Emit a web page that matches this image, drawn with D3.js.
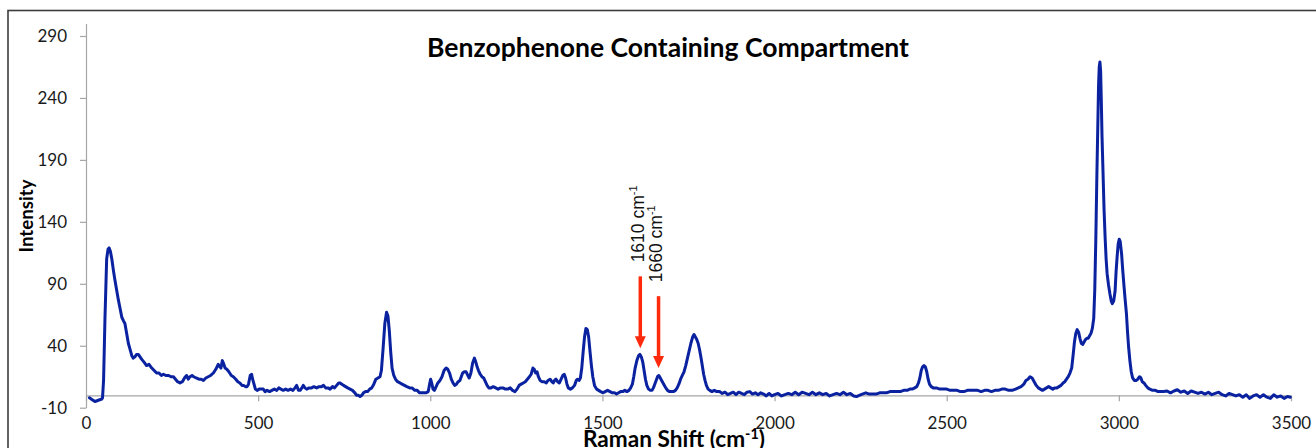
<!DOCTYPE html>
<html><head><meta charset="utf-8">
<script src="https://cdn.jsdelivr.net/npm/d3@7"></script>
<style>body{margin:0;background:#fff;} svg{display:block;}</style>
</head><body><svg id="c" width="1316" height="448"></svg>
<script>
const ramanShift = [10,18,26,36,46,48,51,55,60,64,67,71,75,80,84,89,94,99,104,109,113,118,123,128,133,137,142,147,152,157,162,168,176,183,191,198,205,212,219,225,232,240,247,254,260,266,273,280,286,292,297,302,308,313,320,328,335,341,348,355,362,370,377,384,389,392,396,399,404,409,415,422,428,435,441,447,453,458,463,468,472,477,481,484,488,492,497,503,509,515,520,526,533,540,547,554,560,566,573,580,587,594,601,607,612,617,622,627,631,636,641,648,655,662,670,677,684,690,696,703,709,716,722,728,734,738,743,748,754,760,767,774,781,786,791,796,801,806,812,818,824,830,836,842,848,854,858,863,868,873,877,881,885,889,894,899,905,912,918,925,932,940,947,955,962,969,975,982,988,994,998,1001,1004,1008,1012,1017,1022,1028,1034,1040,1046,1051,1056,1061,1066,1071,1076,1081,1086,1090,1094,1099,1104,1109,1113,1118,1123,1128,1132,1136,1140,1145,1150,1155,1160,1165,1170,1176,1183,1190,1197,1204,1211,1218,1225,1232,1239,1246,1252,1258,1264,1270,1276,1282,1288,1293,1298,1302,1306,1310,1314,1319,1325,1331,1337,1342,1348,1353,1357,1361,1365,1370,1375,1380,1385,1389,1393,1397,1401,1407,1413,1419,1424,1428,1432,1436,1440,1444,1448,1452,1456,1460,1464,1468,1472,1477,1483,1489,1495,1502,1508,1515,1522,1528,1535,1541,1547,1553,1559,1565,1571,1577,1582,1587,1591,1595,1600,1605,1609,1613,1617,1621,1625,1629,1634,1639,1644,1648,1652,1656,1660,1664,1668,1672,1676,1680,1684,1689,1695,1700,1706,1712,1717,1722,1727,1732,1737,1742,1747,1752,1757,1762,1766,1770,1774,1778,1782,1786,1790,1794,1798,1802,1807,1812,1818,1825,1832,1840,1848,1856,1864,1872,1880,1888,1896,1904,1912,1920,1928,1936,1944,1952,1960,1968,1976,1984,1992,2000,2010,2020,2030,2040,2050,2060,2070,2080,2090,2100,2110,2120,2130,2140,2150,2160,2170,2180,2190,2200,2210,2220,2230,2238,2246,2255,2265,2275,2285,2295,2305,2315,2325,2335,2345,2355,2365,2375,2385,2393,2400,2407,2413,2418,2422,2426,2430,2434,2438,2442,2446,2450,2455,2461,2470,2480,2490,2500,2510,2520,2530,2540,2550,2560,2570,2580,2590,2600,2610,2620,2630,2640,2650,2660,2670,2680,2690,2700,2708,2716,2724,2730,2736,2742,2748,2754,2760,2766,2772,2778,2784,2790,2796,2802,2808,2814,2820,2826,2832,2838,2843,2848,2853,2858,2863,2867,2871,2875,2879,2883,2887,2891,2895,2899,2903,2907,2911,2915,2919,2923,2927,2930,2933,2936,2939,2941,2943,2945,2947,2949,2951,2954,2957,2960,2963,2966,2970,2974,2978,2981,2985,2989,2992,2995,2998,3001,3004,3008,3011,3015,3018,3022,3025,3028,3032,3036,3040,3045,3050,3055,3060,3064,3068,3073,3078,3084,3090,3098,3106,3114,3122,3130,3140,3150,3160,3170,3180,3190,3200,3210,3220,3230,3240,3250,3260,3270,3280,3290,3300,3310,3320,3330,3340,3350,3360,3370,3380,3390,3400,3410,3420,3430,3440,3450,3460,3470,3480,3490,3498];
const intensity = [-2,-3.5,-5,-4,-3,-2,12,61,110,118,119,116,110,100,93,85,77,70,63,60,58,50,42,37,32,30,31,33,33,31,29,27,24,25,22,20,18,18,16,17,16,16,15,15,13,11,10,11,14,16,13,15,16,15,14,13,13,12,14,15,16,18,21,25,23,22,28,26,22,21,19,16,15,13,11,10,8,8,7,7,9,16,17,13,9,5,4,5,5,5,3,4,3,4,5,4,6,5,4,5,4,5,4,6,8,4,4,6,8,6,5,6,6,7,6,7,7,8,6,6,5,7,6,8,10,10,9,8,7,6,5,4,2,0,0,-1,0,2,3,3,5,6,9,13,14,15,20,38,58,67,64,52,35,22,16,13,11,10,9,8,7,6,6,4,4,2,2,2,2,3,9,13,10,5,4,7,10,12,15,20,22,21,18,13,10,8,9,11,12,15,18,19,19,16,14,18,26,30,27,23,20,17,15,14,11,8,6,6,7,6,5,6,6,5,5,6,4,3,5,8,9,10,11,13,15,17,22,21,18,19,15,12,11,11,10,12,13,11,10,12,13,11,10,13,16,17,14,9,6,5,6,8,12,13,12,14,22,35,47,54,53,47,35,24,15,8,5,4,3,2,3,4,3,2,2,1,2,3,3,4,3,4,6,9,15,22,28,32,33,31,27,20,13,8,5,4,4,6,9,12,15,16,14,12,10,8,6,4,3,3,3,4,6,9,13,16,19,24,30,36,42,47,49,47,45,42,37,31,24,17,12,8,5,4,3,4,3,3,1.5,2.5,0.5,1.5,2.5,0.5,2.5,1.5,0.5,2.5,3,1,2,0.5,2,1,-0.5,1.5,-0.5,0.5,1.5,-0.5,0.5,1.5,0.5,2.5,0.5,2.5,1.5,0.5,2.5,0.5,2,0.5,1.5,-0.5,0.5,1.5,0.5,2.5,0.5,1.5,-0.5,-1,0,1,2,1,1,1,2,2,2,3,3,3,3,4,4,5,5,6,7,10,14,20,23,24,23,19,13,9,7,6,6,5,5,5,4,4,4,3,3,4,4,4,4,3,4,4,3,4,4,5,5,4,4,5,6,7,9,12,13,15,14,11,8,6,5,4,5,6,7,6,5,6,6,7,8,10,11,13,15,18,22,32,43,50,53,51,46,42,41,43,45,46,46,48,50,54,62,85,125,175,220,250,265,269,262,238,210,180,150,128,110,98,89,82,76,74,76,84,100,112,122,126,124,114,102,88,78,66,52,40,28,19,14,12,12,13,15,14,11,10,8,6,5,4,4,3,3,3,3.5,2,3.5,4.5,2.5,3.5,1.5,3.5,2.5,1.5,2.5,1,2.5,0.5,1.5,2.5,0.5,-0.5,1.5,0.5,-0.5,0.5,-1.5,0.5,-2.5,-0.5,0.5,-1.5,0.5,-1.5,-2.5,0.5,-1.5,-0.5,-2.5,-1,-1.5];
const xTicks = [0,500,1000,1500,2000,2500,3000,3500];
const yTicks = [-10,40,90,140,190,240,290];
const peakLabels = ["1610","1660"];
const arrowShift = [1610,1663];
const arrowTop = [96,80];
const arrowTip = [38,22];
const chartTitle = "Benzophenone Containing Compartment";
const yTitle = "Intensity";
const xTitle = "Raman Shift (cm";

if (ramanShift.length !== intensity.length) console.error("length mismatch", ramanShift.length, intensity.length);

const svg = d3.select("#c");
const x = d3.scaleLinear().domain([0,3500]).range([86,1291]);
const y = d3.scaleLinear().domain([-10,300]).range([407.7,23.6]);

svg.append("rect").attr("x",8).attr("y",10.5).attr("width",1330).attr("height",470)
  .attr("fill","none").attr("stroke","#3c3c3c").attr("stroke-width",1.6);

const axisColor = "#a6a6a6";
const tickFont = "Lato, 'Open Sans', sans-serif";
const fmt = d => String(d);

const gy = svg.append("g").attr("transform","translate(86,0)")
  .call(d3.axisLeft(y).tickValues(yTicks).tickSize(6).tickSizeOuter(0).tickPadding(13).tickFormat(fmt));
gy.select(".domain").attr("stroke",axisColor).attr("stroke-width",1.2);
gy.selectAll(".tick line").attr("stroke",axisColor).attr("stroke-width",1.2);
gy.selectAll(".tick text").attr("font-family",tickFont).attr("font-size",17).attr("fill","#1a1a1a");

const gx = svg.append("g").attr("transform",`translate(0,${y(0)})`)
  .call(d3.axisBottom(x).tickValues(xTicks).tickSize(6).tickSizeOuter(0).tickPadding(16).tickFormat(fmt));
gx.select(".domain").attr("stroke",axisColor).attr("stroke-width",1.2);
gx.selectAll(".tick line").attr("stroke",axisColor).attr("stroke-width",1.2);
gx.selectAll(".tick text").attr("font-family",tickFont).attr("font-size",17).attr("fill","#1a1a1a");

const pts = ramanShift.map((s,i)=>[s,intensity[i]]);
svg.append("path").datum(pts)
  .attr("fill","none").attr("stroke","#0a22a0").attr("stroke-width",3)
  .attr("stroke-linejoin","round").attr("stroke-linecap","round")
  .attr("d", d3.line().x(d=>x(d[0])).y(d=>y(d[1])));

function fit(sel, w){
  let fs = +sel.attr("font-size");
  const len = sel.node().getComputedTextLength();
  if (len>0) sel.attr("font-size", fs*w/len);
}

const t = svg.append("text").attr("x",668).attr("y",57).attr("text-anchor","middle")
  .attr("font-family","Lato, sans-serif").attr("font-weight","bold").attr("font-size",22)
  .attr("fill","#000").text(chartTitle);
fit(t, 482);

const yt = svg.append("text").attr("transform","translate(33,216) rotate(-90)").attr("text-anchor","middle")
  .attr("font-family","Lato, sans-serif").attr("font-weight","bold").attr("font-size",17)
  .attr("fill","#000").text(yTitle);
fit(yt, 73);

const xt = svg.append("text").attr("x",583).attr("y",447)
  .attr("font-family","Lato, sans-serif").attr("font-weight","bold").attr("font-size",19).attr("fill","#000");
xt.append("tspan").text(xTitle);
const sup = xt.append("tspan").attr("font-size",12).attr("dy",-8).text("-1");
xt.append("tspan").attr("dy",8).text(")");
{
  const len = xt.node().getComputedTextLength();
  const k = 182/len;
  xt.attr("font-size",19*k);
  sup.attr("font-size",12*k);
}

const red = "#ff2a0c";
arrowShift.forEach((s,i)=>{
  const ax = x(s), y0 = y(arrowTop[i]), y1 = y(arrowTip[i]);
  svg.append("line").attr("x1",ax).attr("x2",ax).attr("y1",y0).attr("y2",y1-11)
    .attr("stroke",red).attr("stroke-width",3.5);
  svg.append("path").attr("d",`M${ax-5.5},${y1-12}L${ax+5.5},${y1-12}L${ax},${y1}Z`).attr("fill",red);
  const lab = svg.append("text").attr("transform",`translate(${ax+3.5},${y0-14}) rotate(-90)`)
    .attr("font-family","'Liberation Sans', Arial, sans-serif").attr("font-size",17.5).attr("fill","#111");
  lab.append("tspan").text(peakLabels[i]+" cm");
  lab.append("tspan").attr("font-size",11).attr("dy",-7).text("-1");
});
</script></body></html>
